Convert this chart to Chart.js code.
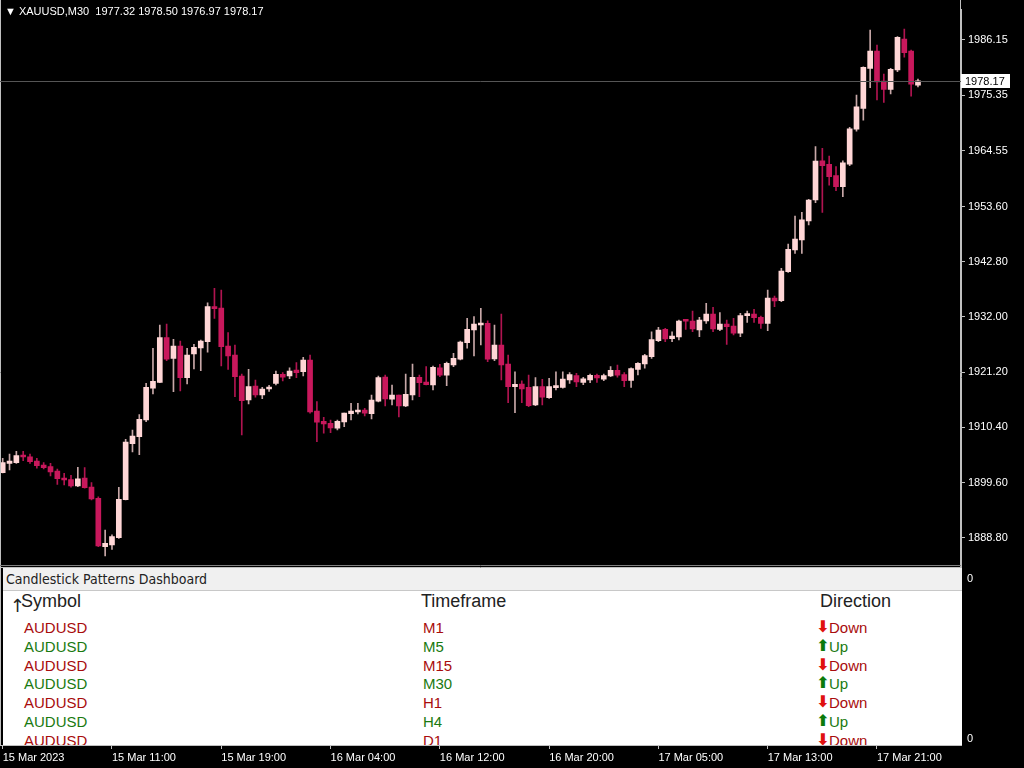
<!DOCTYPE html>
<html><head><meta charset="utf-8">
<script src="https://cdn.jsdelivr.net/npm/chart.js@4.4.0/dist/chart.umd.min.js"></script>
<style>
html,body{margin:0;padding:0;background:#000;width:1024px;height:768px;overflow:hidden;font-family:"Liberation Sans",Arial,sans-serif}
#c{position:absolute;left:0;top:0}
.t{position:absolute;line-height:1;transform:translateY(-50%);white-space:nowrap}
#panel{position:absolute;left:3px;top:568px;width:959px;height:177px;background:#fff;overflow:hidden}
#phead{position:absolute;left:0;top:0;width:959px;height:22px;background:#f0f0f0;border-bottom:1px solid #c8c8c8;font-family:"DejaVu Sans Condensed","DejaVu Sans",sans-serif;font-size:14px;color:#222}
</style></head><body>
<canvas id="c" width="1024" height="768"></canvas>
<div class="t" style="left:5px;top:11px;color:#fff;font-size:11px">&#9660; XAUUSD,M30&nbsp; 1977.32 1978.50 1976.97 1978.17</div>
<div id="panel"><div id="phead"><span class="t" style="left:3px;top:11px">Candlestick Patterns Dashboard</span></div></div>
<div class="t" style="left:967px;top:578px;color:#fff;font-size:11px">0</div>
<div class="t" style="left:967px;top:738px;color:#fff;font-size:11px">0</div>
<script>
const O=[1901.56,1903.39,1903.51,1904.88,1904.68,1903.84,1903.06,1902.73,1901.89,1900.52,1900.19,1898.96,1900.52,1898.76,1896.55,1887.09,1887.44,1888.85,1896.28,1907.23,1908.59,1911.86,1918.06,1919.23,1927.95,1923.92,1926.33,1920.13,1924.76,1925.94,1927.17,1933.89,1933.76,1926.33,1924.57,1920.46,1915.77,1918.51,1916.75,1917.92,1919.03,1920.79,1920.46,1921.64,1921.30,1923.59,1913.62,1911.61,1911.21,1910.24,1911.47,1913.09,1913.42,1913.81,1913.09,1915.52,1920.27,1915.91,1916.75,1914.60,1916.75,1920.21,1919.29,1918.70,1922.08,1920.60,1922.61,1923.73,1926.97,1929.46,1930.43,1930.76,1923.79,1926.52,1922.81,1918.37,1918.90,1918.25,1914.79,1918.37,1916.22,1918.17,1918.25,1919.68,1920.52,1919.23,1919.68,1920.60,1919.82,1920.46,1921.58,1920.72,1919.62,1921.77,1922.81,1924.24,1927.37,1929.59,1927.75,1928.09,1931.27,1931.21,1929.46,1931.21,1932.58,1929.59,1930.63,1930.24,1928.81,1932.25,1932.58,1931.94,1930.76,1935.71,1935.18,1940.84,1945.10,1947.06,1950.77,1954.87,1962.55,1961.85,1959.63,1957.48,1961.89,1968.72,1972.77,1980.59,1983.97,1978.13,1976.51,1980.29,1986.35,1983.97,1977.32];
const H=[1904.37,1905.21,1905.74,1905.75,1905.21,1904.37,1903.51,1903.39,1902.28,1901.44,1901.05,1902.61,1902.54,1899.60,1896.86,1890.36,1889.39,1898.70,1908.09,1909.91,1912.90,1919.03,1925.88,1930.43,1930.63,1927.64,1927.30,1925.88,1926.66,1927.50,1934.79,1937.61,1937.28,1928.93,1926.52,1920.85,1921.77,1919.68,1918.25,1918.64,1921.44,1921.12,1922.08,1923.06,1924.12,1924.57,1915.44,1912.39,1911.86,1911.86,1913.23,1915.12,1915.12,1914.15,1916.75,1920.46,1920.66,1918.70,1916.75,1920.85,1922.81,1920.66,1922.28,1922.42,1922.75,1923.19,1924.90,1927.30,1931.74,1932.06,1933.70,1931.27,1930.43,1932.58,1924.57,1921.30,1919.54,1920.66,1920.13,1919.81,1920.01,1921.30,1921.30,1921.11,1920.99,1920.21,1920.85,1920.85,1920.85,1922.28,1922.61,1921.11,1922.08,1923.06,1924.70,1929.12,1929.98,1929.78,1929.12,1931.41,1931.54,1933.17,1931.94,1934.66,1933.89,1932.84,1931.41,1931.74,1932.72,1933.17,1933.50,1932.19,1937.28,1936.10,1941.51,1946.26,1951.75,1952.48,1955.00,1965.29,1964.97,1963.47,1961.39,1962.55,1969.06,1975.38,1980.91,1988.08,1985.17,1979.50,1980.62,1986.80,1988.30,1984.17,1978.50];
const L=[1901.50,1902.08,1903.39,1903.90,1903.39,1902.42,1902.28,1900.91,1899.25,1899.15,1898.71,1898.82,1898.51,1896.22,1887.09,1885.27,1886.57,1888.73,1896.22,1905.60,1905.07,1911.53,1916.94,1919.15,1923.45,1917.39,1917.53,1918.90,1921.83,1921.50,1925.10,1931.74,1922.42,1921.77,1916.42,1908.93,1914.99,1916.30,1916.02,1917.47,1918.70,1919.48,1919.93,1920.13,1920.46,1913.17,1907.62,1909.26,1909.38,1909.91,1910.55,1911.86,1913.03,1912.64,1912.06,1915.38,1914.60,1914.79,1912.45,1914.46,1915.77,1916.42,1918.70,1917.73,1920.33,1918.57,1922.28,1923.59,1925.88,1924.37,1926.52,1923.26,1923.45,1919.68,1915.24,1913.29,1915.24,1914.46,1914.66,1914.79,1916.10,1917.73,1918.06,1919.03,1918.37,1918.76,1919.15,1919.23,1919.54,1920.33,1920.21,1918.37,1918.25,1920.66,1921.97,1923.92,1927.17,1927.17,1927.17,1927.50,1929.59,1929.12,1928.15,1930.76,1929.12,1929.32,1926.63,1928.48,1928.15,1930.96,1930.96,1929.78,1929.32,1934.01,1934.99,1940.72,1944.45,1944.45,1949.99,1954.34,1952.44,1957.78,1956.69,1955.53,1961.58,1968.33,1970.49,1976.81,1974.42,1973.97,1975.60,1979.96,1982.77,1975.17,1976.97];
const C=[1903.51,1903.84,1904.88,1904.63,1903.71,1902.93,1902.53,1901.69,1900.38,1900.13,1898.96,1900.38,1898.63,1896.41,1887.23,1887.76,1889.06,1896.36,1907.56,1908.73,1912.00,1918.25,1919.43,1927.95,1923.73,1926.33,1920.13,1924.57,1926.07,1927.30,1934.01,1933.62,1926.19,1924.37,1920.33,1915.63,1918.37,1916.75,1917.92,1918.25,1920.79,1920.21,1921.44,1921.11,1923.59,1913.42,1911.41,1911.08,1910.30,1911.61,1913.23,1913.62,1913.81,1913.17,1915.77,1920.13,1915.97,1916.75,1914.60,1916.88,1920.21,1919.15,1918.76,1922.16,1920.60,1922.94,1923.92,1927.11,1929.59,1930.63,1930.76,1923.73,1926.52,1922.61,1918.37,1918.84,1917.92,1914.66,1918.37,1916.30,1918.37,1918.57,1919.88,1920.72,1919.29,1919.93,1920.60,1920.07,1920.52,1921.58,1920.60,1919.54,1921.89,1922.94,1924.43,1927.56,1929.46,1927.70,1928.28,1931.21,1931.16,1929.65,1931.41,1932.58,1929.65,1930.63,1930.10,1928.81,1932.25,1932.52,1931.86,1930.76,1935.71,1935.12,1940.98,1945.22,1947.25,1950.97,1954.87,1962.49,1961.58,1959.43,1957.48,1962.16,1968.79,1973.09,1980.79,1983.97,1977.97,1976.51,1980.42,1986.68,1983.67,1977.52,1978.17];
const priceTicks=[1888.80,1899.60,1910.40,1921.20,1932.00,1942.80,1953.60,1964.55,1975.35,1986.15];
const timeTickIdx=[0,16,32,48,64,80,96,112,128];
const timeTickLabels=['15 Mar 2023','15 Mar 11:00','15 Mar 19:00','16 Mar 04:00','16 Mar 12:00','16 Mar 20:00','17 Mar 05:00','17 Mar 13:00','17 Mar 21:00'];
const lastPrice=1978.17;
const dashSymbols=['AUDUSD','AUDUSD','AUDUSD','AUDUSD','AUDUSD','AUDUSD','AUDUSD'];
const dashTimeframes=['M1','M5','M15','M30','H1','H4','D1'];
const dashDirections=['Down','Up','Down','Up','Down','Up','Down'];

const panel=document.getElementById('panel');
function addT(txt,x,y,size,color,extra){const s=document.createElement('span');s.className='t';s.style.left=x+'px';s.style.top=y+'px';s.style.fontSize=size+'px';s.style.color=color;if(extra)s.style.cssText+=extra;s.textContent=txt;panel.appendChild(s);return s;}
addT('\u2191',7,38,18,'#222','font-family:DejaVu Sans');
addT('Symbol',18,33,18,'#222');
addT('Timeframe',418,33,18,'#222');
addT('Direction',817,33,18,'#222');
dashSymbols.forEach((s,i)=>{const y=59+i*18.8;const up=dashDirections[i]==='Up';const col=up?'#1a7a10':'#a80c0c';
 addT(s,21,y,15,col);addT(dashTimeframes[i],420,y,15,col);
 addT(up?'\u2B06':'\u2B07',813,y,16,up?'#0b7a0b':'#e01010','font-family:DejaVu Sans;font-weight:bold');
 addT(dashDirections[i],826,y,15,col);});

const idx=O.map((_,i)=>i);
const bull=idx.map(i=>C[i]>=O[i]);
const plug={id:'deco',afterDraw(ch){const c=ch.ctx,a=ch.chartArea,y=ch.scales.y;
 c.save();c.strokeStyle='#c0c0c0';c.lineWidth=1;
 c.beginPath();c.moveTo(0.5,0);c.lineTo(0.5,a.bottom);c.moveTo(a.right-0.5,0);c.lineTo(a.right-0.5,a.bottom);c.stroke();
 c.strokeStyle='#808080';c.beginPath();c.moveTo(0,565.5);c.lineTo(a.right,565.5);c.stroke();
 c.strokeStyle='#c0c0c0';c.beginPath();c.moveTo(0,567.5);c.lineTo(a.right,567.5);c.stroke();
 const py=Math.round(y.getPixelForValue(lastPrice))+0.5;
 c.strokeStyle='#555';c.beginPath();c.moveTo(a.left,py);c.lineTo(a.right,py);c.stroke();
 c.fillStyle='#fff';c.fillRect(a.right,py-7.5,49,14);c.fillStyle='#000';c.font='11px "Liberation Sans"';c.textBaseline='middle';c.fillText(lastPrice.toFixed(2),a.right+4,py);
 c.restore();}};
const chart=new Chart(document.getElementById('c'),{type:'bar',
 data:{datasets:[
  {data:idx.map(i=>({x:i,y:[L[i],H[i]]})),backgroundColor:idx.map(i=>bull[i]?'#c8a8a8':'#b01450'),barThickness:1,grouped:false,order:2},
  {data:idx.map(i=>({x:i,y:[O[i],C[i]]})),backgroundColor:idx.map(i=>bull[i]?'#ffd6d6':'#c8185c'),barThickness:5,minBarLength:2,grouped:false,order:1}]},
 options:{responsive:false,devicePixelRatio:1,animation:false,
  plugins:{legend:{display:false},tooltip:{enabled:false}},
  scales:{
   x:{type:'linear',offset:false,min:-0.395,max:140.3,
     afterBuildTicks:s=>{s.ticks=timeTickIdx.map(v=>({value:v}));},
     afterFit:s=>{s.height=23;},
     ticks:{color:'#fff',font:{family:'Liberation Sans',size:11},align:'start',padding:2,maxRotation:0,autoSkip:false,
       callback:v=>timeTickLabels[timeTickIdx.indexOf(v)]},
     grid:{drawOnChartArea:false,offset:false,color:'#c0c0c0',tickLength:4},border:{color:'#c0c0c0'}},
   y:{position:'right',min:1848.32,max:1993.97,
     afterBuildTicks:s=>{s.ticks=priceTicks.map(v=>({value:v}));},
     afterFit:s=>{s.width=63;},
     ticks:{color:'#fff',font:{family:'Liberation Sans',size:11},padding:3,autoSkip:false,callback:v=>v.toFixed(2)},
     grid:{drawOnChartArea:false,color:'#c0c0c0',tickLength:4},border:{color:'#c0c0c0'}}}},
 plugins:[plug]});
const areaTop=chart.chartArea.top;
if(areaTop>0){chart.options.scales.y.max=1993.97-areaTop*0.1955;chart.update();}
</script></body></html>
